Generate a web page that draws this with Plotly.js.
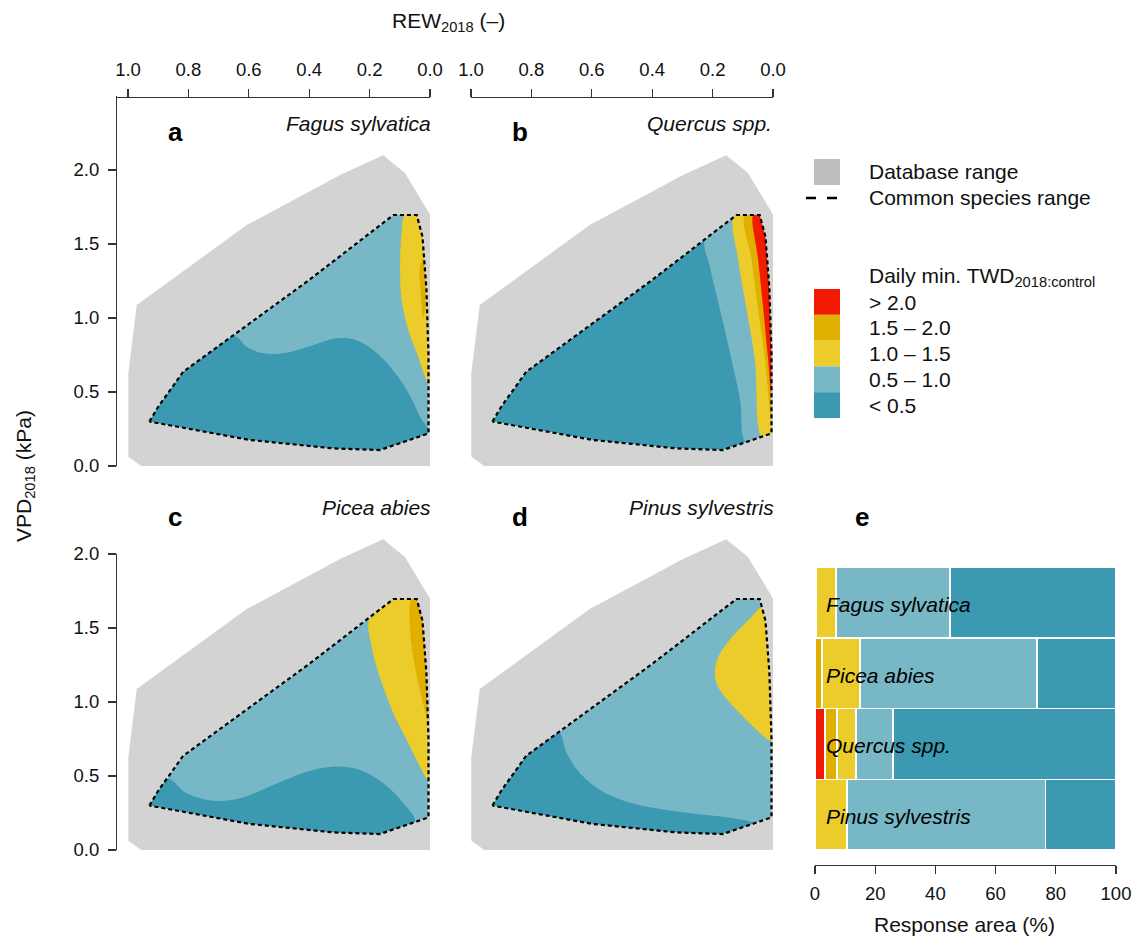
<!DOCTYPE html>
<html>
<head>
<meta charset="utf-8">
<script src="https://cdn.plot.ly/plotly-3.0.1.min.js"></script>
<style>html,body{margin:0;padding:0;background:#fff}#chart{width:1135px;height:938px}</style>
</head>
<body>
<div id="chart"></div>
<script>
// ---------------- DATA ----------------
const rewTicks = [1.0, 0.8, 0.6, 0.4, 0.2, 0.0];
const vpdTicks = [0.0, 0.5, 1.0, 1.5, 2.0];
const areaTicks = [0, 20, 40, 60, 80, 100];

// Database range (same in every panel)
const dbRangeREW = [0.155, 0.083, 0.000, 0.000, 0.949, 0.999, 0.999, 0.971, 0.607, 0.298];
const dbRangeVPD = [2.100, 1.980, 1.700, -0.01, -0.01, 0.063, 0.626, 1.088, 1.628, 1.966];

// Common species range (dashed)
const commonREW = [0.929, 0.900, 0.817, 0.651, 0.408, 0.121, 0.044, 0.025, 0.012, 0.005, 0.005, 0.166, 0.320, 0.596];
const commonVPD = [0.300, 0.400, 0.637, 0.885, 1.245, 1.696, 1.696, 1.550, 1.200, 0.750, 0.220, 0.108, 0.119, 0.176];

// Panel a - Fagus sylvatica (base: 0.5-1.0)
const aLowCurveREW = [0.651, 0.607, 0.552, 0.474, 0.386, 0.309, 0.254, 0.188, 0.132, 0.077, 0.033, 0.006];
const aLowCurveVPD = [0.880, 0.806, 0.761, 0.766, 0.818, 0.863, 0.856, 0.784, 0.671, 0.514, 0.333, 0.222];
const aMidCurveREW = [0.083, 0.094, 0.099, 0.094, 0.072, 0.039, 0.006];
const aMidCurveVPD = [1.696, 1.572, 1.347, 1.122, 0.919, 0.739, 0.559];
const aHighREW = [0.034, 0.030, 0.022, 0.016, 0.017, 0.024];
const aHighVPD = [1.340, 1.150, 1.000, 1.070, 1.280, 1.400];

// Panel b - Quercus spp. (base: < 0.5)
const bLightCurveREW = [0.225, 0.209, 0.175, 0.142, 0.109, 0.089];
const bLightCurveVPD = [1.533, 1.347, 1.054, 0.761, 0.446, 0.162];
const bMidCurveREW = [0.128, 0.115, 0.087, 0.060, 0.037];
const bMidCurveVPD = [1.686, 1.392, 1.054, 0.716, 0.198];
const bHighCurveREW = [0.093, 0.071, 0.049, 0.026, 0.006];
const bHighCurveVPD = [1.696, 1.392, 1.054, 0.716, 0.300];
const bTopCurveREW = [0.065, 0.049, 0.032, 0.016, 0.006];
const bTopCurveVPD = [1.696, 1.392, 1.054, 0.716, 0.490];

// Panel c - Picea abies (base: 0.5-1.0)
const cLowCurveREW = [0.866, 0.806, 0.718, 0.629, 0.519, 0.408, 0.320, 0.232, 0.155, 0.088, 0.050];
const cLowCurveVPD = [0.480, 0.383, 0.333, 0.349, 0.439, 0.529, 0.563, 0.541, 0.451, 0.316, 0.189];
const cMidCurveREW = [0.201, 0.193, 0.177, 0.155, 0.121, 0.077, 0.033, 0.006];
const cMidCurveVPD = [1.560, 1.374, 1.239, 1.104, 0.923, 0.743, 0.563, 0.473];
const cHighCurveREW = [0.061, 0.066, 0.050, 0.028, 0.007];
const cHighCurveVPD = [1.696, 1.486, 1.239, 1.036, 0.878];

// Panel d - Pinus sylvestris (base: 0.5-1.0)
const dLowCurveREW = [0.711, 0.683, 0.639, 0.573, 0.484, 0.352, 0.220, 0.131, 0.065];
const dLowCurveVPD = [0.795, 0.653, 0.518, 0.405, 0.326, 0.270, 0.236, 0.214, 0.178];
const dMidCurveREW = [0.037, 0.076, 0.115, 0.153, 0.181, 0.192, 0.187, 0.164, 0.120, 0.065, 0.005];
const dMidCurveVPD = [1.640, 1.565, 1.486, 1.396, 1.306, 1.216, 1.126, 1.047, 0.946, 0.833, 0.743];

// Panel e - response area (%)
const species = ['Fagus sylvatica', 'Picea abies', 'Quercus spp.', 'Pinus sylvestris'];
const areaOver20 = [0.0, 0.0, 3.4, 0.0];
const area15to20 = [0.4, 2.4, 3.9, 0.0];
const area10to15 = [6.5, 12.6, 6.4, 10.6];
const area05to10 = [38.0, 58.8, 12.2, 66.0];
const areaUnder05 = [55.1, 26.2, 74.1, 23.4];

const classLabels = ['> 2.0', '1.5 \u2013 2.0', '1.0 \u2013 1.5', '0.5 \u2013 1.0', '< 0.5'];
const panelSpecies = ['Fagus sylvatica', 'Quercus spp.', 'Picea abies', 'Pinus sylvestris'];
const panelLetters = ['a', 'b', 'c', 'd', 'e'];

// ---------------- STYLE ----------------
const COL = {red: '#F21A00', dkyel: '#E1AF00', yel: '#EBCC2A', ltblue: '#78B7C5', dkblue: '#3B9AB2', gray: '#D3D3D3', legGray: '#BEBEBE'};
const classColors = [COL.red, COL.dkyel, COL.yel, COL.ltblue, COL.dkblue];
const FONT = 'Liberation Sans, Arial, Helvetica, sans-serif';
const W = 1135, H = 938;
const px = v => v / W;
const py = v => 1 - v / H;

function signedArea(xs, ys) {
  let s = 0;
  for (let i = 0; i < xs.length; i++) { const j = (i + 1) % xs.length; s += xs[i] * ys[j] - xs[j] * ys[i]; }
  return s / 2;
}
// gray database range with the common range cut out (keyhole polygon)
function maskPolygon() {
  let ix = commonREW.slice(5).concat(commonREW.slice(0, 5));
  let iy = commonVPD.slice(5).concat(commonVPD.slice(0, 5));
  if (Math.sign(signedArea(ix, iy)) === Math.sign(signedArea(dbRangeREW, dbRangeVPD))) {
    ix = [ix[0]].concat(ix.slice(1).reverse());
    iy = [iy[0]].concat(iy.slice(1).reverse());
  }
  return {x: dbRangeREW.concat([dbRangeREW[0]], ix, [ix[0]]), y: dbRangeVPD.concat([dbRangeVPD[0]], iy, [iy[0]])};
}
function region(cx, cy, idx) {
  const x = cx.concat(idx.map(i => commonREW[i]));
  const y = cy.concat(idx.map(i => commonVPD[i]));
  return {x: x.concat([x[0]]), y: y.concat([y[0]])};
}
function closed(x, y) { return {x: x.concat([x[0]]), y: y.concat([y[0]])}; }
function fillTrace(poly, color, xa, ya, smooth) {
  return {x: poly.x, y: poly.y, type: 'scatter', mode: 'lines', fill: 'toself', fillcolor: color,
          line: {width: 0, color: color, shape: smooth ? 'spline' : 'linear', smoothing: 1},
          xaxis: xa, yaxis: ya, hoverinfo: 'skip', showlegend: false};
}
function panel(xa, ya, baseColor, regs) {
  const t = [];
  t.push(fillTrace(closed(commonREW, commonVPD), baseColor, xa, ya, false));
  regs.forEach(r => t.push(fillTrace(r[0], r[1], xa, ya, true)));
  t.push(fillTrace(maskPolygon(), COL.gray, xa, ya, false));
  t.push({x: commonREW.concat([commonREW[0]]), y: commonVPD.concat([commonVPD[0]]), type: 'scatter', mode: 'lines',
          line: {color: '#000', width: 2.2, dash: '4px,3px'}, xaxis: xa, yaxis: ya, hoverinfo: 'skip', showlegend: false});
  return t;
}

const traces = [];
traces.push(...panel('x', 'y', COL.ltblue, [
  [region(aLowCurveREW, aLowCurveVPD, [11, 12, 13, 0, 1, 2]), COL.dkblue],
  [region(aMidCurveREW, aMidCurveVPD, [9, 8, 7, 6]), COL.yel],
  [closed(aHighREW, aHighVPD), COL.dkyel]
]));
traces.push(...panel('x2', 'y2', COL.dkblue, [
  [region(bLightCurveREW, bLightCurveVPD, [10, 9, 8, 7, 6, 5]), COL.ltblue],
  [region(bMidCurveREW, bMidCurveVPD, [10, 9, 8, 7, 6]), COL.yel],
  [region(bHighCurveREW, bHighCurveVPD, [9, 8, 7, 6]), COL.dkyel],
  [region(bTopCurveREW, bTopCurveVPD, [9, 8, 7, 6]), COL.red]
]));
traces.push(...panel('x3', 'y3', COL.ltblue, [
  [region(cLowCurveREW, cLowCurveVPD, [11, 12, 13, 0, 1]), COL.dkblue],
  [region(cMidCurveREW, cMidCurveVPD, [9, 8, 7, 6, 5]), COL.yel],
  [region(cHighCurveREW, cHighCurveVPD, [8, 7, 6]), COL.dkyel]
]));
traces.push(...panel('x4', 'y4', COL.ltblue, [
  [region(dLowCurveREW, dLowCurveVPD, [11, 12, 13, 0, 1, 2]), COL.dkblue],
  [region(dMidCurveREW, dMidCurveVPD, [8, 7]), COL.yel]
]));
// anchor trace for the visible y axis of panel c
traces.push({x: [0.5], y: [1], type: 'scatter', mode: 'markers', marker: {opacity: 0}, xaxis: 'x3', yaxis: 'y5', hoverinfo: 'skip', showlegend: false});

// bars (panel e)
const barSeries = [areaOver20, area15to20, area10to15, area05to10, areaUnder05];
barSeries.forEach((vals, i) => {
  traces.push({type: 'bar', orientation: 'h', x: vals, y: species, xaxis: 'x6', yaxis: 'y6',
    marker: {color: classColors[i], line: {color: '#fff', width: 1.5}}, hoverinfo: 'skip', showlegend: false});
});

const axisCommon = {showgrid: false, zeroline: false, showline: true, linecolor: '#333', linewidth: 1.3,
  ticks: 'outside', ticklen: 8, tickwidth: 1.3, tickcolor: '#333', tickfont: {family: FONT, size: 18.5, color: '#111'}, fixedrange: true};
const hidden = {visible: false, fixedrange: true, showgrid: false, zeroline: false};

const annotations = [];
function ann(text, x, y, opt) {
  annotations.push(Object.assign({text: text, x: px(x), y: py(y), xref: 'paper', yref: 'paper', showarrow: false,
    xanchor: 'center', yanchor: 'middle', font: {family: FONT, size: 21, color: '#111'}}, opt || {}));
}
ann('REW<sub>2018</sub> (\u2013)', 448, 22);
ann('VPD<sub>2018</sub> (kPa)', 25, 476, {textangle: -90});
ann('Response area (%)', 965, 924);
const letterPos = [[175, 132], [520, 132], [175, 517], [520, 517], [862, 517]];
panelLetters.forEach((l, i) => ann('<b>' + l + '</b>', letterPos[i][0], letterPos[i][1], {font: {family: FONT, size: 26, color: '#000'}}));
const speciesPos = [[433, 123], [774, 123], [433, 507], [776, 507]];
panelSpecies.forEach((s, i) => ann('<i>' + s + '</i>', speciesPos[i][0], speciesPos[i][1], {xanchor: 'right'}));
species.forEach(s => annotations.push({text: '<i>' + s + '</i>', x: 3, y: s, xref: 'x6', yref: 'y6', xanchor: 'left',
  yanchor: 'middle', yshift: -2, showarrow: false, font: {family: FONT, size: 21, color: '#000'}}));

// legend
const shapes = [];
shapes.push({type: 'rect', xref: 'paper', yref: 'paper', x0: px(814), x1: px(840), y0: py(185), y1: py(159), fillcolor: COL.legGray, line: {width: 0}});
shapes.push({type: 'line', xref: 'paper', yref: 'paper', x0: px(806), x1: px(841), y0: py(198), y1: py(198), line: {color: '#000', width: 2.5, dash: '10px,11px'}});
ann('Database range', 867, 171, {xanchor: 'left'});
ann('Common species range', 867, 197, {xanchor: 'left'});
ann('Daily min. TWD<sub>2018:control</sub>', 867, 277, {xanchor: 'left'});
classLabels.forEach((lab, i) => {
  const top = 289 + i * 25.8;
  shapes.push({type: 'rect', xref: 'paper', yref: 'paper', x0: px(814), x1: px(840), y0: py(top + 25.8), y1: py(top), fillcolor: classColors[i], line: {width: 0}});
  ann(lab, 867, top + 13, {xanchor: 'left'});
});

const layout = {
  width: W, height: H, margin: {l: 0, r: 0, t: 0, b: 0},
  paper_bgcolor: '#fff', plot_bgcolor: 'rgba(0,0,0,0)', showlegend: false, hovermode: false,
  barmode: 'stack', bargap: 0,
  xaxis: Object.assign({}, axisCommon, {domain: [px(116), px(430)], range: [1 + 12 / 302, 0], side: 'top', anchor: 'free',
    position: py(96.5), tickvals: rewTicks, tickformat: '.1f', ticklabelstandoff: 5}),
  yaxis: Object.assign({}, axisCommon, {domain: [py(466), py(96)], range: [0, 2.5], anchor: 'free', position: px(116),
    tickvals: vpdTicks, tickformat: '.1f', ticklabelstandoff: 5}),
  xaxis2: Object.assign({}, axisCommon, {domain: [px(471), px(773)], range: [1, 0], side: 'top', anchor: 'free',
    position: py(96.5), tickvals: rewTicks, tickformat: '.1f', ticklabelstandoff: 5}),
  yaxis2: Object.assign({}, hidden, {domain: [py(466), py(96)], range: [0, 2.5], anchor: 'x2'}),
  xaxis3: Object.assign({}, hidden, {domain: [px(128), px(430)], range: [1, 0], anchor: 'y3'}),
  yaxis3: Object.assign({}, hidden, {domain: [py(850), py(480)], range: [0, 2.5], anchor: 'x3'}),
  xaxis4: Object.assign({}, hidden, {domain: [px(471), px(773)], range: [1, 0], anchor: 'y4'}),
  yaxis4: Object.assign({}, hidden, {domain: [py(850), py(480)], range: [0, 2.5], anchor: 'x4'}),
  yaxis5: Object.assign({}, axisCommon, {domain: [py(850), py(554)], range: [0, 2], anchor: 'free', position: px(116),
    tickvals: vpdTicks, tickformat: '.1f', ticklabelstandoff: 5}),
  xaxis6: Object.assign({}, axisCommon, {domain: [px(815), px(1116)], range: [0, 100], anchor: 'free', position: py(865),
    tickvals: areaTicks, ticklabelstandoff: 3}),
  yaxis6: Object.assign({}, hidden, {domain: [py(850), py(567)], type: 'category', categoryorder: 'array',
    categoryarray: species.slice().reverse(), anchor: 'x6'}),
  annotations: annotations,
  shapes: shapes
};

Plotly.newPlot('chart', traces, layout, {displayModeBar: false, staticPlot: true});
</script>
</body>
</html>
